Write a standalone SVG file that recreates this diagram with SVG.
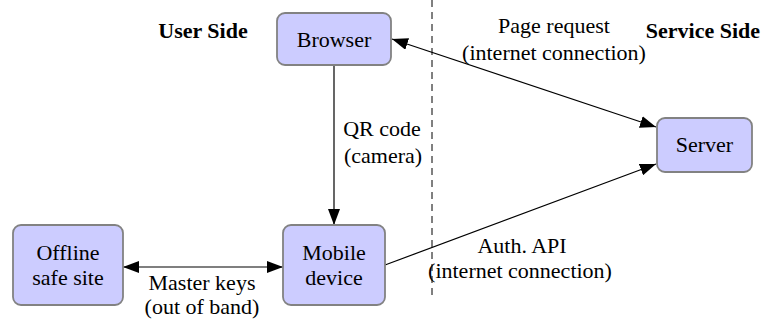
<svg xmlns="http://www.w3.org/2000/svg" width="763" height="320" viewBox="0 0 763 320" font-family="Liberation Serif, serif">
  <style>
    .node rect { fill: #ccccff; stroke: #828282; stroke-width: 1.8; }
    text { font-family: 'Liberation Serif', 'Times New Roman', serif; font-size: 22px; fill: #000; text-anchor: middle; }
    .side { font-weight: bold; }
    .edge { stroke: #000; stroke-width: 1.2; fill: none; }
    .divider { stroke: #000; stroke-width: 1; stroke-dasharray: 7 5; }
  </style>
  <defs>
    <marker id="arrow" viewBox="0 0 16 12" refX="16" refY="6" markerWidth="16" markerHeight="12" markerUnits="userSpaceOnUse" orient="auto-start-reverse">
      <path d="M0,0 L16,6 L0,12 Z" fill="#000"/>
    </marker>
  </defs>
  <rect width="763" height="320" fill="#fff"/>

  <!-- boundary between user and service side -->
  <line class="divider" x1="432" y1="0" x2="432" y2="300"/>
  <text class="side" x="203" y="38">User Side</text>
  <text class="side" x="703" y="38">Service Side</text>

  <g id="connectors">
    <line class="edge" x1="334" y1="65" x2="334" y2="225" marker-end="url(#arrow)"/>
    <line class="edge" x1="392" y1="39" x2="656" y2="127" marker-start="url(#arrow)" marker-end="url(#arrow)"/>
    <line class="edge" x1="385" y1="265" x2="656" y2="164" marker-end="url(#arrow)"/>
    <line class="edge" x1="123" y1="267" x2="283" y2="267" marker-start="url(#arrow)" marker-end="url(#arrow)"/>
    <text x="382" y="136">QR code</text>
    <text x="383" y="163">(camera)</text>
    <text x="554" y="33">Page request</text>
    <text x="554" y="60">(internet connection)</text>
    <text x="522" y="253">Auth. API</text>
    <text x="520" y="278">(internet connection)</text>
    <text x="202" y="290">Master keys</text>
    <text x="202" y="314">(out of band)</text>
  </g>

  <g id="browser" class="node">
    <rect x="277" y="13" width="114" height="52" rx="8"/>
    <text x="334" y="47">Browser</text>
  </g>
  <g id="server" class="node">
    <rect x="657" y="118" width="95" height="54" rx="8"/>
    <text x="704.5" y="152">Server</text>
  </g>
  <g id="offline-site" class="node">
    <rect x="13" y="225" width="110" height="80" rx="8"/>
    <text x="68" y="260">Offline</text>
    <text x="68" y="285">safe site</text>
  </g>
  <g id="mobile" class="node">
    <rect x="283" y="225" width="102" height="80" rx="8"/>
    <text x="334" y="260">Mobile</text>
    <text x="334" y="285">device</text>
  </g>
</svg>
